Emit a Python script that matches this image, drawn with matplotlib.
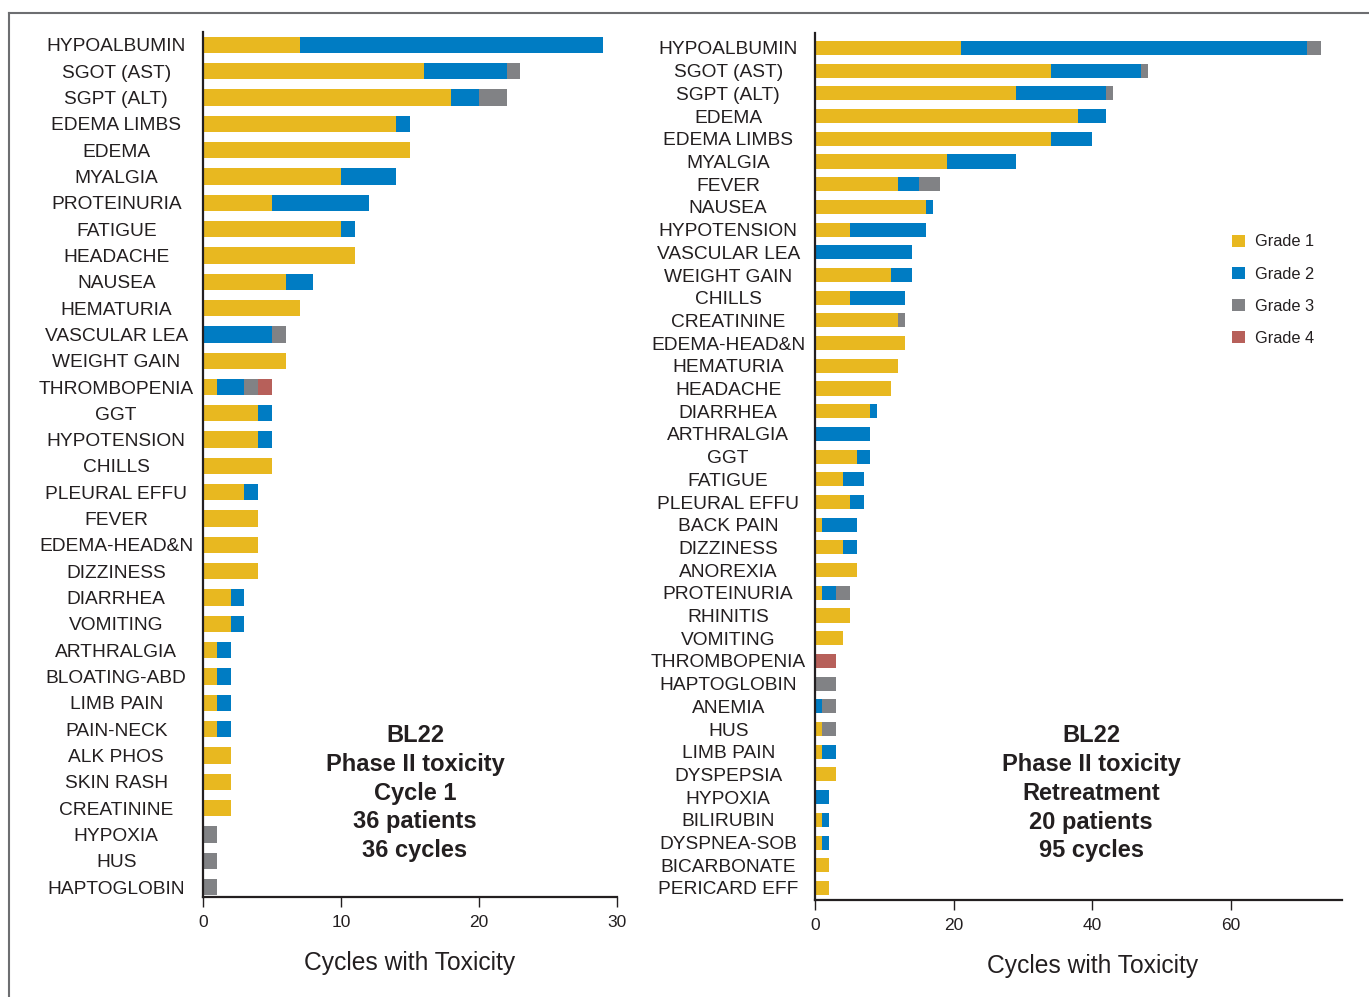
import numpy as np
import matplotlib.pyplot as plt
from matplotlib.patches import Patch
from matplotlib.lines import Line2D

plt.rcParams['font.family'] = ['Liberation Sans', 'DejaVu Sans']

# Cycle 1 toxicity counts, per grade
left_names = ["HYPOALBUMIN", "SGOT (AST)", "SGPT (ALT)", "EDEMA LIMBS", "EDEMA", "MYALGIA",
              "PROTEINURIA", "FATIGUE", "HEADACHE", "NAUSEA", "HEMATURIA", "VASCULAR LEA",
              "WEIGHT GAIN", "THROMBOPENIA", "GGT", "HYPOTENSION", "CHILLS", "PLEURAL EFFU",
              "FEVER", "EDEMA-HEAD&N", "DIZZINESS", "DIARRHEA", "VOMITING", "ARTHRALGIA",
              "BLOATING-ABD", "LIMB PAIN", "PAIN-NECK", "ALK PHOS", "SKIN RASH", "CREATININE",
              "HYPOXIA", "HUS", "HAPTOGLOBIN"]
left_g1 = [7, 16, 18, 14, 15, 10, 5, 10, 11, 6, 7, 0, 6, 1, 4, 4, 5, 3, 4, 4, 4, 2, 2, 1, 1, 1, 1, 2, 2, 2, 0, 0, 0]
left_g2 = [22, 6, 2, 1, 0, 4, 7, 1, 0, 2, 0, 5, 0, 2, 1, 1, 0, 1, 0, 0, 0, 1, 1, 1, 1, 1, 1, 0, 0, 0, 0, 0, 0]
left_g3 = [0, 1, 2, 0, 0, 0, 0, 0, 0, 0, 0, 1, 0, 1, 0, 0, 0, 0, 0, 0, 0, 0, 0, 0, 0, 0, 0, 0, 0, 0, 1, 1, 1]
left_g4 = [0, 0, 0, 0, 0, 0, 0, 0, 0, 0, 0, 0, 0, 1, 0, 0, 0, 0, 0, 0, 0, 0, 0, 0, 0, 0, 0, 0, 0, 0, 0, 0, 0]

# Retreatment toxicity counts, per grade
right_names = ["HYPOALBUMIN", "SGOT (AST)", "SGPT (ALT)", "EDEMA", "EDEMA LIMBS", "MYALGIA",
               "FEVER", "NAUSEA", "HYPOTENSION", "VASCULAR LEA", "WEIGHT GAIN", "CHILLS",
               "CREATININE", "EDEMA-HEAD&N", "HEMATURIA", "HEADACHE", "DIARRHEA", "ARTHRALGIA",
               "GGT", "FATIGUE", "PLEURAL EFFU", "BACK PAIN", "DIZZINESS", "ANOREXIA",
               "PROTEINURIA", "RHINITIS", "VOMITING", "THROMBOPENIA", "HAPTOGLOBIN", "ANEMIA",
               "HUS", "LIMB PAIN", "DYSPEPSIA", "HYPOXIA", "BILIRUBIN", "DYSPNEA-SOB",
               "BICARBONATE", "PERICARD EFF"]
right_g1 = [21, 34, 29, 38, 34, 19, 12, 16, 5, 0, 11, 5, 12, 13, 12, 11, 8, 0, 6, 4, 5, 1, 4, 6,
            1, 5, 4, 0, 0, 0, 1, 1, 3, 0, 1, 1, 2, 2]
right_g2 = [50, 13, 13, 4, 6, 10, 3, 1, 11, 14, 3, 8, 0, 0, 0, 0, 1, 8, 2, 3, 2, 5, 2, 0,
            2, 0, 0, 0, 0, 1, 0, 2, 0, 2, 1, 1, 0, 0]
right_g3 = [2, 1, 1, 0, 0, 0, 3, 0, 0, 0, 0, 0, 1, 0, 0, 0, 0, 0, 0, 0, 0, 0, 0, 0,
            2, 0, 0, 0, 3, 2, 2, 0, 0, 0, 0, 0, 0, 0]
right_g4 = [0, 0, 0, 0, 0, 0, 0, 0, 0, 0, 0, 0, 0, 0, 0, 0, 0, 0, 0, 0, 0, 0, 0, 0,
            0, 0, 0, 3, 0, 0, 0, 0, 0, 0, 0, 0, 0, 0]

grade_labels = ["Grade 1", "Grade 2", "Grade 3", "Grade 4"]
colors = ["#E8B820", "#007CC3", "#818285", "#B7605A"]
ink = "#231F20"

left_text = "BL22\nPhase II toxicity\nCycle 1\n36 patients\n36 cycles"
right_text = "BL22\nPhase II toxicity\nRetreatment\n20 patients\n95 cycles"


def draw_panel(ax, names, grades, xmax, xticks, ylim, note, note_xy, label_x):
    y = np.arange(len(names))
    left = np.zeros(len(names))
    for vals, c in zip(grades, colors):
        vals = np.array(vals, dtype=float)
        ax.barh(y, vals, left=left, height=0.62, color=c, linewidth=0)
        left += vals
    ax.set_xlim(0, xmax)
    ax.set_ylim(*ylim)
    ax.set_yticks(y)
    ax.set_yticklabels(names, ha='center', fontsize=13.8, color=ink)
    ax.tick_params(axis='y', length=0, pad=62.5)
    ax.set_xticks(xticks)
    ax.tick_params(axis='x', length=7, width=1, color=ink, labelsize=12.5,
                   labelcolor=ink, pad=6)
    for s in ['top', 'right']:
        ax.spines[s].set_visible(False)
    for s in ['left', 'bottom']:
        ax.spines[s].set_linewidth(1.6)
        ax.spines[s].set_color(ink)
    ax.set_xlabel("Cycles with Toxicity", fontsize=17.7, color=ink)
    ax.xaxis.set_label_coords(label_x, -0.076)
    ax.xaxis.label.set_va('center')
    ax.text(note_xy[0], note_xy[1], note, transform=ax.transAxes, ha='center',
            va='center', fontsize=17, fontweight='bold', color=ink, linespacing=1.32)


fig = plt.figure(figsize=(13.69, 9.97), dpi=100)
ax1 = fig.add_axes([0.1483, 0.1003, 0.3024, 0.8676])
ax2 = fig.add_axes([0.5953, 0.0973, 0.3850, 0.8696])

draw_panel(ax1, left_names, [left_g1, left_g2, left_g3, left_g4], 30, [0, 10, 20, 30],
           (32.38, -0.49), left_text, (0.512, 0.12), 0.5)
draw_panel(ax2, right_names, [right_g1, right_g2, right_g3, right_g4], 76, [0, 20, 40, 60],
           (37.53, -0.66), right_text, (0.524, 0.123), 0.526)

handles = [Patch(facecolor=c, edgecolor='none') for c in colors]
fig.legend(handles, grade_labels, loc='center left', bbox_to_anchor=(0.8895, 0.709),
           frameon=False, fontsize=11.8, handlelength=0.75, handleheight=0.75,
           handletextpad=0.6, labelspacing=1.05, labelcolor=ink)

# thin frame along the top and left edges
fig.add_artist(Line2D([9 / 1369, 1], [1 - 13 / 997, 1 - 13 / 997], color='#6d6e71', lw=1.5,
                      transform=fig.transFigure))
fig.add_artist(Line2D([9 / 1369, 9 / 1369], [0, 1 - 13 / 997], color='#6d6e71', lw=1.5,
                      transform=fig.transFigure))

fig.savefig("out.png", dpi=100)
